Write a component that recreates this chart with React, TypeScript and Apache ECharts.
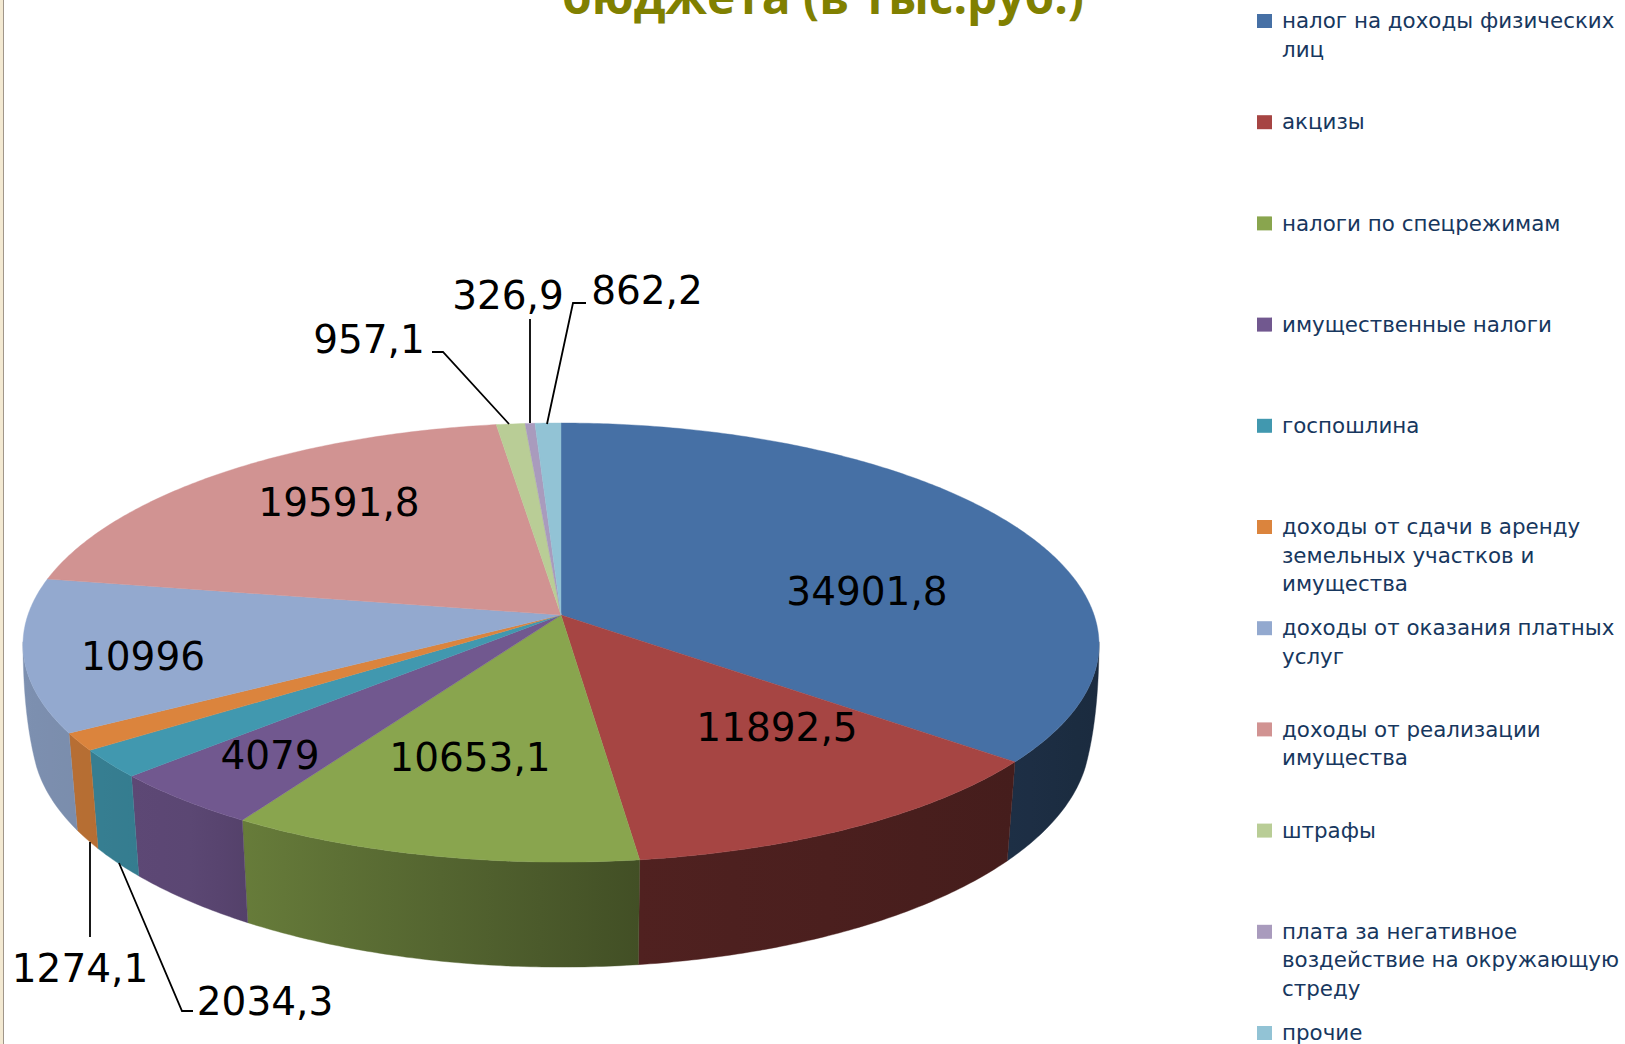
import React, { useEffect, useRef } from "react";
import * as echarts from "echarts";

const categories = [
  "налог на доходы физических\nлиц",
  "акцизы",
  "налоги по спецрежимам",
  "имущественные налоги",
  "госпошлина",
  "доходы от сдачи в аренду\nземельных участков и\nимущества",
  "доходы от оказания платных\nуслуг",
  "доходы от реализации\nимущества",
  "штрафы",
  "плата за негативное\nвоздействие на окружающую\nстреду",
  "прочие",
];
const values = [34901.8, 11892.5, 10653.1, 4079, 2034.3, 1274.1, 10996, 19591.8, 957.1, 326.9, 862.2];
const colors = ["#4670A5", "#A64543", "#89A54E", "#71588F", "#4198AF", "#DB843D", "#93A9CF", "#D19392", "#B9CD96", "#A99BBD", "#92C3D5"];
const titleText = "бюджета (в тыс.руб.)";

// label placement: centre of the text, then optional leader line
const labelCentres: number[][] = [
  [867, 591], [777, 727], [470, 757], [270, 755], [265, 1001], [80, 968],
  [143, 656], [339, 502], [369, 339], [508, 295], [647, 290],
];
const leaders: (number[][] | null)[] = [
  null, null, null, null,
  [[193, 1011], [182, 1011], [119, 863]],
  [[90, 937], [90, 842]],
  null, null,
  [[432, 352], [443, 352], [509, 424]],
  [[530, 319], [530, 423]],
  [[586, 303], [573, 303], [547, 424]],
];

const CX = 561;
const CY = 615;
const RX = 533.1;
const RY = 216.1;
const PERSP_X = 0.135;
const PERSP_Y = 0.1255;
const total = values.reduce((a, b) => a + b, 0);
const cumulative: number[] = [];
values.reduce((acc, v, i) => ((cumulative[i] = acc), acc + v), 0);

const DEG = Math.PI / 180;
const WIDE_R = 97 * DEG; // angles where the rim is at its widest
const WIDE_L = 263 * DEG;
const TAN_R = 105 * DEG; // angles where the silhouette meets the lower rim
const TAN_L = 255 * DEG;

function topPoint(theta: number): number[] {
  const x = Math.sin(theta);
  const y = -Math.cos(theta);
  return [CX + (RX * x) / (1 - PERSP_X * y), CY + (RY * y) / (1 - PERSP_Y * y)];
}
function bottomPoint(theta: number): number[] {
  const [x, y] = topPoint(theta);
  return [CX + (x - CX) * 0.983, y + 99 + 0.06 * (y - 762)];
}
function sliceAngles(i: number): number[] {
  return [(cumulative[i] / total) * 2 * Math.PI, ((cumulative[i] + values[i]) / total) * 2 * Math.PI];
}
function arc(a: number, b: number, fn: (t: number) => number[]): number[][] {
  const n = Math.max(2, Math.ceil(Math.abs(b - a) / 0.01));
  const pts: number[][] = [];
  for (let k = 0; k <= n; k++) pts.push(fn(a + ((b - a) * k) / n));
  return pts;
}
// slightly bulged edge from the widest rim point down to the lower rim
function silhouette(from: number[], to: number[]): number[][] {
  const ctrl = [from[0], from[1] + (to[1] - from[1]) * 0.6];
  const pts: number[][] = [];
  for (let k = 0; k <= 24; k++) {
    const t = k / 24;
    const u = 1 - t;
    pts.push([
      u * u * from[0] + 2 * u * t * ctrl[0] + t * t * to[0],
      u * u * from[1] + 2 * u * t * ctrl[1] + t * t * to[1],
    ]);
  }
  return pts;
}
const shadeStops = [[20, 0.85], [200, 0.8], [250, 0.74], [640, 0.48], [1010, 0.42], [1100, 0.38]];
function shadeAt(x: number): number {
  if (x <= shadeStops[0][0]) return shadeStops[0][1];
  for (let i = 1; i < shadeStops.length; i++) {
    if (x <= shadeStops[i][0]) {
      const [x0, s0] = shadeStops[i - 1];
      const [x1, s1] = shadeStops[i];
      return s0 + ((s1 - s0) * (x - x0)) / (x1 - x0);
    }
  }
  return shadeStops[shadeStops.length - 1][1];
}
function shaded(hex: string, f: number): string {
  const n = parseInt(hex.slice(1), 16);
  const c = [(n >> 16) & 255, (n >> 8) & 255, n & 255].map((v) => Math.round(v * f));
  return `rgb(${c[0]},${c[1]},${c[2]})`;
}

const formatValue = (v: number) => String(v).replace(".", ",");

function renderWall(params: any) {
  const i = params.dataIndex;
  const [s, e] = sliceAngles(i);
  const a = Math.max(s, WIDE_R);
  const b = Math.min(e, WIDE_L);
  if (b <= a) return { type: "group", children: [] };
  const ba = Math.max(a, TAN_R);
  const bb = Math.min(b, TAN_L);
  const points: number[][] = [...arc(a, b, topPoint)];
  if (b > TAN_L) points.push(...silhouette(topPoint(WIDE_L), bottomPoint(TAN_L)));
  points.push(...arc(bb, ba, bottomPoint));
  if (a < TAN_R) points.push(...silhouette(topPoint(WIDE_R), bottomPoint(TAN_R)).reverse());
  const xs = points.map((p) => p[0]);
  const minX = Math.min(...xs);
  const maxX = Math.max(...xs);
  const colorStops = [0, 0.25, 0.5, 0.75, 1].map((o) => ({
    offset: o,
    color: shaded(colors[i], shadeAt(minX + (maxX - minX) * o)),
  }));
  const fill = { type: "linear", x: 0, y: 0, x2: 1, y2: 0, colorStops };
  return { type: "polygon", shape: { points }, style: { fill, stroke: fill, lineWidth: 0.4 } };
}

function renderTop(params: any) {
  const i = params.dataIndex;
  const [s, e] = sliceAngles(i);
  const points = [[CX, CY], ...arc(s, e, topPoint)];
  return { type: "polygon", shape: { points }, style: { fill: colors[i], stroke: colors[i], lineWidth: 0.4 } };
}

function renderLabel(params: any, api: any) {
  const i = params.dataIndex;
  const children: any[] = [];
  const line = leaders[i];
  if (line) {
    children.push({ type: "polyline", shape: { points: line }, style: { stroke: "#000", lineWidth: 1.8, fill: "none" } });
  }
  children.push({
    type: "text",
    x: labelCentres[i][0],
    y: labelCentres[i][1],
    style: {
      text: formatValue(api.value(0)),
      fill: "#000",
      font: '39px "DejaVu Sans"',
      align: "center",
      verticalAlign: "middle",
    },
  });
  return { type: "group", children };
}

const pieData = values.map((v, i) => ({ name: categories[i], value: v }));
const LEGEND_Y0 = 21;
const LEGEND_STEP = 101.2;

export default function App() {
  const ref = useRef<HTMLDivElement>(null);
  useEffect(() => {
    const chart = echarts.init(ref.current!, undefined, { renderer: "svg" });
    const legend: any[] = [];
    categories.forEach((name, i) => {
      const yc = LEGEND_Y0 + LEGEND_STEP * i;
      legend.push({ type: "rect", shape: { x: 1257, y: yc - 7, width: 15, height: 14 }, style: { fill: colors[i] } });
      legend.push({
        type: "text",
        x: 1282,
        y: yc - 14.4,
        style: {
          text: name,
          fill: "#17375E",
          font: '21.4px "DejaVu Sans"',
          lineHeight: 28.4,
          align: "left",
          verticalAlign: "top",
        },
      });
    });
    chart.setOption({
      animation: false,
      backgroundColor: "#fff",
      graphic: [
        { type: "rect", shape: { x: 0, y: 0, width: 3, height: 1044 }, style: { fill: "#F3E9D2" } },
        { type: "rect", shape: { x: 3, y: 0, width: 1, height: 1044 }, style: { fill: "#A0968A" } },
        {
          type: "text",
          x: 823,
          y: 19,
          style: {
            text: titleText,
            fill: "#808000",
            font: 'bold 47.8px "Open Sans"',
            align: "center",
            verticalAlign: "bottom",
          },
        },
        ...legend,
      ],
      series: [
        { type: "custom", name: "walls", coordinateSystem: "none", silent: true, z: 1, renderItem: renderWall, data: pieData },
        { type: "custom", name: "tops", coordinateSystem: "none", silent: true, z: 2, renderItem: renderTop, data: pieData },
        { type: "custom", name: "labels", coordinateSystem: "none", silent: true, z: 3, renderItem: renderLabel, data: pieData },
      ],
    });
    return () => chart.dispose();
  }, []);
  return <div ref={ref} style={{ position: "fixed", left: 0, top: 0, width: 1625, height: 1044 }} />;
}
